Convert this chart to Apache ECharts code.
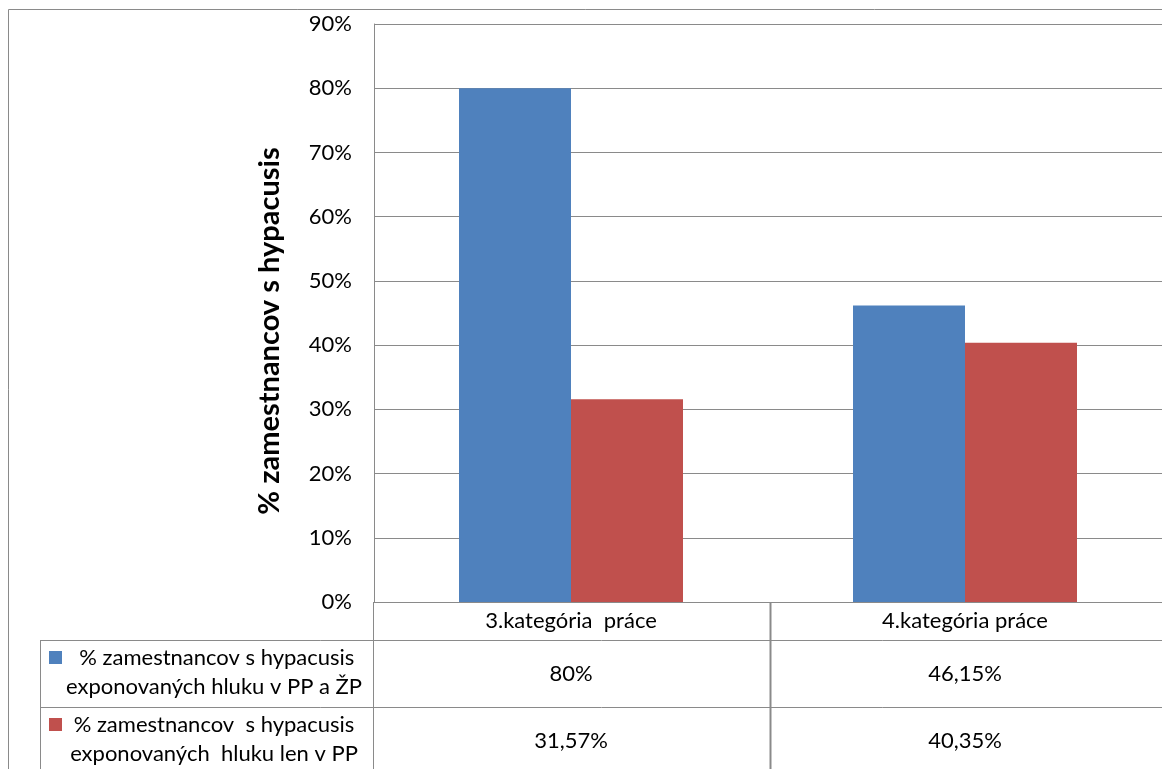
<!DOCTYPE html>
<html>
<head>
<meta charset="utf-8">
<script src="https://cdn.jsdelivr.net/npm/echarts@6/dist/echarts.min.js"></script>
<style>
  html, body { margin: 0; padding: 0; background: #fff; }
  #chart { width: 1162px; height: 769px; }
</style>
</head>
<body>
<div id="chart"></div>
<script>
// data
const categories = ['3.kategória  práce', '4.kategória práce']
const seriesNames = [
  ' % zamestnancov s hypacusis\nexponovaných hluku v PP a ŽP',
  '% zamestnancov  s hypacusis\nexponovaných  hluku len v PP',
]
const valuesPPaZP = [80, 46.15]
const valuesPP = [31.57, 40.35]
const yTicks = [0, 10, 20, 30, 40, 50, 60, 70, 80, 90]

const colors = ['#4F81BD', '#C0504D']
const lineColor = '#8a8a8a'
const font = 'Lato, "Open Sans", sans-serif'

const gridLeft = 374
const gridTop = 24
const gridWidth = 794
const gridBottomY = 602

const fmt = v => String(v).replace('.', ',') + '%'

const chart = echarts.init(document.getElementById('chart'))

chart.setOption({
  animation: false,
  backgroundColor: '#fff',
  grid: { left: gridLeft, top: gridTop, width: gridWidth, height: gridBottomY - gridTop },
  xAxis: {
    type: 'category',
    data: categories,
    axisLine: { lineStyle: { color: lineColor, width: 1 } },
    axisTick: { show: false },
    axisLabel: { color: '#000', fontFamily: font, fontSize: 22, margin: 8 },
  },
  yAxis: {
    type: 'value',
    min: yTicks[0],
    max: yTicks[yTicks.length - 1],
    interval: 10,
    name: '% zamestnancov s hypacusis',
    nameLocation: 'middle',
    nameGap: 90,
    nameTextStyle: {
      color: '#000',
      fontFamily: font,
      fontSize: 29,
      fontWeight: 'bold',
      padding: [0, 36, 0, 0],
    },
    axisLine: { show: true, lineStyle: { color: lineColor } },
    axisTick: { show: false },
    splitLine: { lineStyle: { color: lineColor, width: 1 } },
    axisLabel: { color: '#000', fontFamily: font, fontSize: 22, margin: 22, formatter: '{value}%' },
  },
  series: [
    {
      type: 'bar',
      name: seriesNames[0],
      data: valuesPPaZP,
      itemStyle: { color: colors[0] },
      barWidth: 112,
      barGap: '0%',
    },
    {
      type: 'bar',
      name: seriesNames[1],
      data: valuesPP,
      itemStyle: { color: colors[1] },
      barWidth: 112,
      barGap: '0%',
    },
  ],
})

// data table below the plot, laid out from the axis positions
const rowTop = 640
const rowH = 67
const tableLeft = 40
const right = gridLeft + gridWidth
const catW = gridWidth / categories.length
const g = []
const line = (x1, y1, x2, y2, w) => ({
  type: 'line',
  shape: { x1, y1, x2, y2 },
  style: { stroke: lineColor, lineWidth: w || 1 },
  silent: true,
})
// outer frame
g.push({ type: 'rect', shape: { x: 8.5, y: 9.5, width: 1200, height: 800 }, style: { fill: null, stroke: lineColor, lineWidth: 1 } })
g.push(line(tableLeft, rowTop + 0.5, right, rowTop + 0.5))
g.push(line(tableLeft, rowTop + rowH + 0.5, right, rowTop + rowH + 0.5))
g.push(line(tableLeft + 0.5, rowTop, tableLeft + 0.5, 780))
for (let i = 0; i <= categories.length; i++) {
  const x = Math.round(gridLeft + i * catW) - 0.5
  g.push(line(x, gridBottomY, x, 780, i === 1 ? 2 : 1))
}
const rows = [valuesPPaZP, valuesPP]
rows.forEach((vals, r) => {
  const cy = rowTop + r * rowH + rowH / 2
  g.push({
    type: 'rect',
    shape: { x: 49, y: rowTop + r * rowH + 11, width: 13, height: 13 },
    style: { fill: colors[r] },
  })
  g.push({
    type: 'text',
    x: 214,
    y: cy - 1,
    style: {
      text: seriesNames[r],
      fill: '#000',
      font: '22px ' + font,
      align: 'center',
      verticalAlign: 'middle',
      lineHeight: 29,
    },
  })
  vals.forEach((v, c) => {
    const cx = chart.convertToPixel({ xAxisIndex: 0 }, categories[c])
    g.push({
      type: 'text',
      x: cx,
      y: cy,
      style: { text: fmt(v), fill: '#000', font: '22px ' + font, align: 'center', verticalAlign: 'middle' },
    })
  })
})
chart.setOption({ graphic: g })
</script>
</body>
</html>
